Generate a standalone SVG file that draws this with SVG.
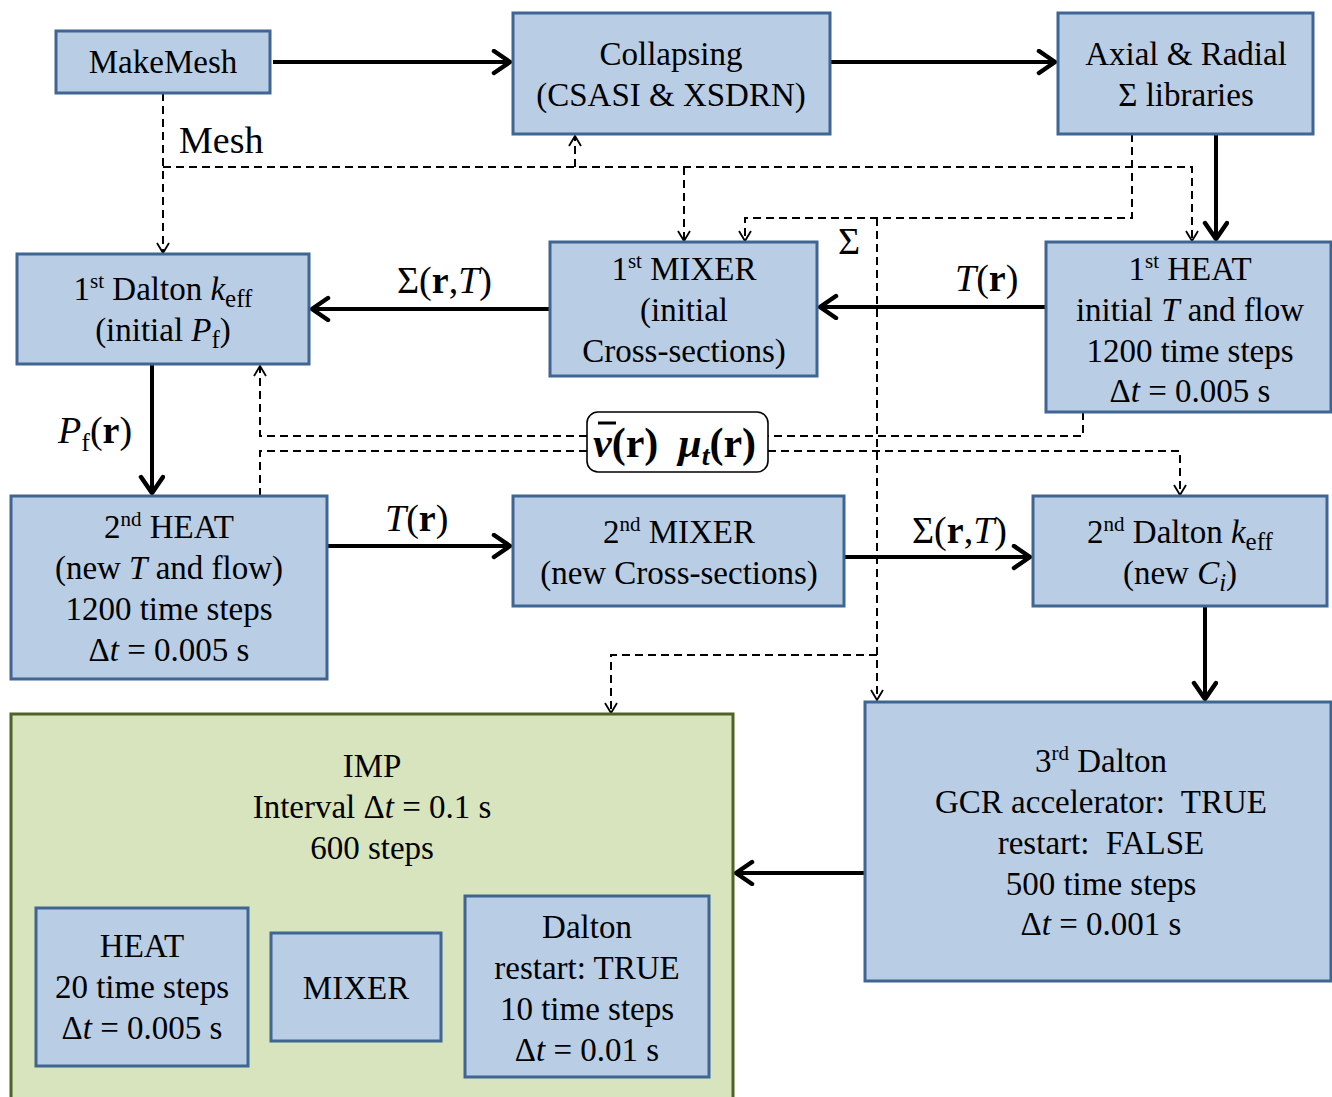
<svg xmlns="http://www.w3.org/2000/svg" width="1332" height="1097" viewBox="0 0 1332 1097">
<defs>
<style>
.box{fill:#B9CDE5;stroke:#3F6593;stroke-width:3}
.grn{fill:#D7E4BD;stroke:#4F6228;stroke-width:3}
text{font-family:"Liberation Serif","Times New Roman",serif;font-size:33px;fill:#000}
.c{text-anchor:middle}
text.lbl{font-size:38px}
text.vm{font-size:42px;font-weight:bold}
.sol{fill:none;stroke:#000;stroke-width:4}
.dsh{fill:none;stroke:#000;stroke-width:2;stroke-dasharray:8 5}
.i{font-style:italic}
.b{font-weight:bold}
</style>
<marker id="ah" markerUnits="userSpaceOnUse" markerWidth="26" markerHeight="28" refX="21" refY="13" orient="auto">
<path d="M4,2 L20,13 L4,24" fill="none" stroke="#000" stroke-width="4.5" stroke-linecap="round" stroke-linejoin="round"/>
</marker>
<marker id="dh" markerUnits="userSpaceOnUse" markerWidth="16" markerHeight="16" refX="12" refY="8" orient="auto">
<path d="M2,2 L12,8 L2,14" fill="none" stroke="#000" stroke-width="1.8"/>
</marker>
</defs>

<g id="connectors">
<path class="sol" d="M273,62 H511" marker-end="url(#ah)"/>
<path class="sol" d="M830,62 H1056" marker-end="url(#ah)"/>
<path class="sol" d="M1216,134 V240" marker-end="url(#ah)"/>
<path class="sol" d="M550,309 H311" marker-end="url(#ah)"/>
<path class="sol" d="M1046,307 H819" marker-end="url(#ah)"/>
<path class="sol" d="M152,364 V494" marker-end="url(#ah)"/>
<path class="sol" d="M327,546 H511" marker-end="url(#ah)"/>
<path class="sol" d="M844,557 H1031" marker-end="url(#ah)"/>
<path class="sol" d="M1205,606 V700" marker-end="url(#ah)"/>
<path class="sol" d="M865,873 H735" marker-end="url(#ah)"/>

<path class="dsh" d="M163,93 V253" marker-end="url(#dh)"/>
<path class="dsh" d="M163,167 H1192 V241" marker-end="url(#dh)"/>
<path class="dsh" d="M575,167 V136" marker-end="url(#dh)"/>
<path class="dsh" d="M684,167 V241" marker-end="url(#dh)"/>
<path class="dsh" d="M1132,134 V218 H745 V241" marker-end="url(#dh)"/>
<path class="dsh" d="M877,218 V700" marker-end="url(#dh)"/>
<path class="dsh" d="M877,655 H611 V713" marker-end="url(#dh)"/>
<path class="dsh" d="M1083,412 V436 H768"/>
<path class="dsh" d="M587,436 H260 V366" marker-end="url(#dh)"/>
<path class="dsh" d="M260,496 V451 H587"/>
<path class="dsh" d="M768,451 H1180 V495" marker-end="url(#dh)"/>

<text class="lbl" x="179" y="153">Mesh</text>
<text class="lbl" x="397" y="293">Σ(<tspan class="b">r</tspan>,<tspan class="i">T</tspan>)</text>
<text class="lbl" x="955" y="291"><tspan class="i">T</tspan>(<tspan class="b">r</tspan>)</text>
<text class="lbl" x="58" y="443"><tspan class="i">P</tspan><tspan font-size="26" dy="8">f</tspan><tspan dy="-8">(</tspan><tspan class="b">r</tspan>)</text>
<text class="lbl" x="385" y="531"><tspan class="i">T</tspan>(<tspan class="b">r</tspan>)</text>
<text class="lbl" x="912" y="543">Σ(<tspan class="b">r</tspan>,<tspan class="i">T</tspan>)</text>
<text class="lbl" x="838" y="254">Σ</text>
</g>

<g id="vmu">
<rect x="587" y="412" width="181" height="60" rx="11" fill="#fff" stroke="#000" stroke-width="1.6"/>
<line x1="598" y1="423" x2="616" y2="423" stroke="#000" stroke-width="3"/>
<text class="vm" x="593" y="457"><tspan class="i">v</tspan>(r)<tspan class="i" dx="20">μ</tspan><tspan class="i" font-size="28" dy="8">t</tspan><tspan dy="-8">(r)</tspan></text>
</g>

<g id="makemesh">
<rect class="box" x="56" y="31" width="214" height="62"/>
<text class="c" x="163" y="73">MakeMesh</text>
</g>

<g id="collapsing">
<rect class="box" x="513" y="13" width="317" height="121"/>
<text class="c" x="671" y="65">Collapsing</text>
<text class="c" x="671" y="106">(CSASI &amp; XSDRN)</text>
</g>

<g id="axial">
<rect class="box" x="1058" y="13" width="255" height="121"/>
<text class="c" x="1186" y="65">Axial &amp; Radial</text>
<text class="c" x="1186" y="106">Σ libraries</text>
</g>

<g id="dalton1">
<rect class="box" x="17" y="254" width="292" height="110"/>
<text class="c" x="163" y="300">1<tspan font-size="21" dy="-12">st</tspan><tspan dy="12"> Dalton </tspan><tspan class="i">k</tspan><tspan font-size="25" dy="7">eff</tspan></text>
<text class="c" x="163" y="341">(initial <tspan class="i">P</tspan><tspan font-size="25" dy="7">f</tspan><tspan dy="-7">)</tspan></text>
</g>

<g id="mixer1">
<rect class="box" x="550" y="242" width="267" height="134"/>
<text class="c" x="684" y="280">1<tspan font-size="21" dy="-12">st</tspan><tspan dy="12"> MIXER</tspan></text>
<text class="c" x="684" y="321">(initial</text>
<text class="c" x="684" y="362">Cross-sections)</text>
</g>

<g id="heat1">
<rect class="box" x="1046" y="242" width="285" height="170"/>
<text class="c" x="1190" y="280">1<tspan font-size="21" dy="-12">st</tspan><tspan dy="12"> HEAT</tspan></text>
<text class="c" x="1190" y="321">initial <tspan class="i">T</tspan> and flow</text>
<text class="c" x="1190" y="362">1200 time steps</text>
<text class="c" x="1190" y="402">Δ<tspan class="i">t</tspan> = 0.005 s</text>
</g>

<g id="heat2">
<rect class="box" x="11" y="496" width="316" height="183"/>
<text class="c" x="169" y="538">2<tspan font-size="21" dy="-12">nd</tspan><tspan dy="12"> HEAT</tspan></text>
<text class="c" x="169" y="579">(new <tspan class="i">T</tspan> and flow)</text>
<text class="c" x="169" y="620">1200 time steps</text>
<text class="c" x="169" y="661">Δ<tspan class="i">t</tspan> = 0.005 s</text>
</g>

<g id="mixer2">
<rect class="box" x="513" y="496" width="331" height="110"/>
<text class="c" x="679" y="543">2<tspan font-size="21" dy="-12">nd</tspan><tspan dy="12"> MIXER</tspan></text>
<text class="c" x="679" y="584">(new Cross-sections)</text>
</g>

<g id="dalton2">
<rect class="box" x="1033" y="496" width="294" height="110"/>
<text class="c" x="1180" y="543">2<tspan font-size="21" dy="-12">nd</tspan><tspan dy="12"> Dalton </tspan><tspan class="i">k</tspan><tspan font-size="25" dy="7">eff</tspan></text>
<text class="c" x="1180" y="584">(new <tspan class="i">C</tspan><tspan class="i" font-size="25" dy="7">i</tspan><tspan dy="-7">)</tspan></text>
</g>

<g id="dalton3">
<rect class="box" x="865" y="702" width="466" height="279"/>
<text class="c" x="1101" y="772">3<tspan font-size="21" dy="-12">rd</tspan><tspan dy="12"> Dalton</tspan></text>
<text class="c" x="1101" y="813" xml:space="preserve">GCR accelerator:  TRUE</text>
<text class="c" x="1101" y="854" xml:space="preserve">restart:  FALSE</text>
<text class="c" x="1101" y="895">500 time steps</text>
<text class="c" x="1101" y="935">Δ<tspan class="i">t</tspan> = 0.001 s</text>
</g>

<g id="imp">
<rect class="grn" x="11" y="714" width="722" height="390"/>
<text class="c" x="372" y="777">IMP</text>
<text class="c" x="372" y="818">Interval Δ<tspan class="i">t</tspan> = 0.1 s</text>
<text class="c" x="372" y="859">600 steps</text>
</g>

<g id="heat-imp">
<rect class="box" x="36" y="908" width="212" height="158"/>
<text class="c" x="142" y="957">HEAT</text>
<text class="c" x="142" y="998">20 time steps</text>
<text class="c" x="142" y="1039">Δ<tspan class="i">t</tspan> = 0.005 s</text>
</g>

<g id="mixer-imp">
<rect class="box" x="271" y="933" width="170" height="108"/>
<text class="c" x="356" y="999">MIXER</text>
</g>

<g id="dalton-imp">
<rect class="box" x="465" y="896" width="244" height="181"/>
<text class="c" x="587" y="938">Dalton</text>
<text class="c" x="587" y="979">restart: TRUE</text>
<text class="c" x="587" y="1020">10 time steps</text>
<text class="c" x="587" y="1061">Δ<tspan class="i">t</tspan> = 0.01 s</text>
</g>
</svg>
